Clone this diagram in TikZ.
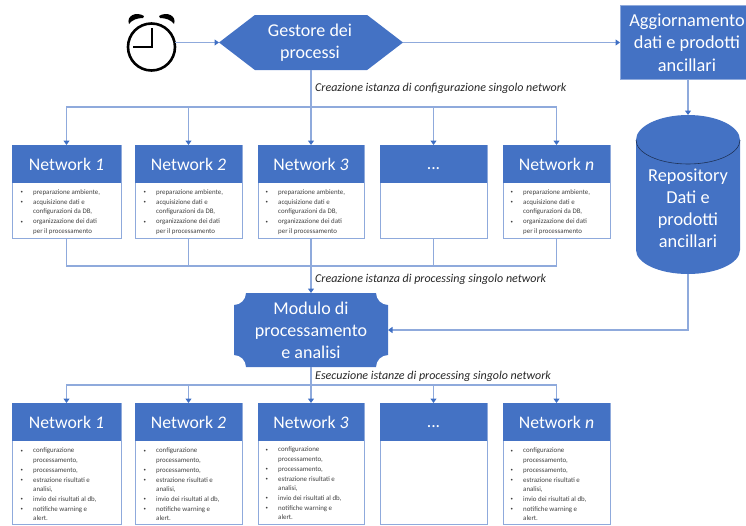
\documentclass[tikz,border=0pt]{standalone}
\usepackage{fontspec}
\setmainfont{Carlito}
\usetikzlibrary{arrows.meta,shapes.symbols,calc}
\definecolor{fillblue}{HTML}{4472C4}
\definecolor{lineblue}{HTML}{8FAADC}
\definecolor{tipblue}{HTML}{3F6FC4}
\newcommand{\bl}[1]{\makebox[13pt][l]{\hspace{0.5pt}\raisebox{0.5pt}{\scalebox{0.7}{\textbullet}}}#1\\}
\newcommand{\cn}[1]{\hspace*{13pt}#1\\}
\newcommand{\prep}{\bl{preparazione ambiente,}\bl{acquisizione dati e}\cn{configurazioni da DB,}\bl{organizzazione dei dati}\cn{per il processamento}}
\newcommand{\proc}{\bl{configurazione}\cn{processamento,}\bl{processamento,}\bl{estrazione risultati e}\cn{analisi,}\bl{invio dei risultati al db,}\bl{notifiche warning e}\cn{alert.}}
\newcommand{\tridots}{\vphantom{N}...}
\tikzset{
  x=1pt,y=-1pt,
  conn/.style={draw=lineblue,line width=1.4pt},
  arr/.style={conn,-{Triangle[length=4.5pt,width=6pt,color=tipblue]}},
  boxbody/.style={draw=lineblue,line width=1pt,fill=white,inner sep=0pt,outer sep=0pt,minimum width=#1},
  head/.style={fill=fillblue,text=white,inner sep=0pt,outer sep=0pt,font=\fontsize{17.7}{20}\selectfont,minimum width=#1,minimum height=38pt},
  bigtext/.style={text=white,align=center,font=\fontsize{18}{22}\selectfont,inner sep=0pt},
  note/.style={font=\fontsize{12}{14}\selectfont\itshape,text=black!85,inner sep=0pt,anchor=west},
  small/.style={font=\fontsize{6.9}{9.7}\selectfont,text=black!75,align=left,anchor=north west,inner sep=0pt},
}
\begin{document}
\begin{tikzpicture}
\useasboundingbox (0,0) rectangle (746,525);
% clock
\node[circle,draw=black,line width=2.6pt,minimum size=47pt,inner sep=0pt,outer sep=0pt] (clock) at (151.5,47) {};
\draw[line width=2pt,line join=miter] (152,28) -- (152,46.5) -- (133,46.5);
\fill (129,24) .. controls (126,16) and (136,11) .. (144,16) -- (143,18) .. controls (137,18) and (132,20) .. cycle;
\fill (174,24) .. controls (177,16) and (167,11) .. (159,16) -- (160,18) .. controls (166,18) and (171,20) .. cycle;
% top shapes
\node[signal,signal to=west and east,signal pointer angle=75,fill=fillblue,inner sep=0pt,outer sep=0pt,minimum width=184pt,minimum height=55pt] (gestore) at (311,42.5) {};
\node[bigtext] (gestoretxt) at (310,43) {Gestore dei\\processi};
\node[fill=fillblue,draw=lineblue,line width=0.6pt,minimum width=126pt,minimum height=74pt,outer sep=0pt,inner sep=0pt] (agg) at (683,42) {};
\node[text=white,align=center,font=\fontsize{18.3}{22.5}\selectfont,inner sep=0pt] (aggtxt) at (687,42.5) {Aggiornamento\\dati e prodotti\\ancillari};
% cylinder
\node[inner sep=0pt,outer sep=0pt,minimum width=104pt,minimum height=159pt] (rep) at (688,194.5) {};
\fill[fillblue] (636,140) arc[x radius=52,y radius=25,start angle=180,end angle=360] -- (740,250) arc[x radius=52,y radius=24,start angle=0,end angle=180] -- cycle;
\draw[black!55!fillblue,line width=0.6pt] (636,140) arc[x radius=52,y radius=24,start angle=180,end angle=0];
\node[text=white,align=center,font=\fontsize{18.3}{22}\selectfont,inner sep=0pt] (reptxt) at (688,208) {Repository\\Dati e\\prodotti\\ancillari};
% module
\node[inner sep=0pt,outer sep=0pt,minimum width=154pt,minimum height=74pt] (module) at (311,330) {};
\fill[fillblue] (246,293) -- (376,293) arc[radius=12,start angle=180,end angle=90] -- (388,355) arc[radius=12,start angle=270,end angle=180] -- (246,367) arc[radius=12,start angle=0,end angle=-90] -- (234,305) arc[radius=12,start angle=90,end angle=0] -- cycle;
\node[bigtext] (moduletxt) at (311,330) {Modulo di\\processamento\\e analisi};
% second row
\foreach \n/\cx/\w/\t in {1/66.5/109/Network \textit{1},2/188.5/107/Network \textit{2},3/311/106/Network \textit{3},4/433.5/107/\tridots,5/556.5/107/Network \textit{n}}{
  \node[boxbody=\w pt,minimum height=93pt] (a\n) at (\cx,191.5) {};
  \node[head=\w pt,anchor=north] (ah\n) at (a\n.north) {\t};
}
\foreach \n/\lx in {1/33,2/156,3/278,5/523}{
  \node[small] (at\n) at (\lx-13,189.5) {\prep};
}
% third row
\foreach \n/\cx/\w/\t in {1/66.5/109/Network \textit{1},2/188.5/107/Network \textit{2},3/311/106/Network \textit{3},4/433.5/107/\tridots,5/556.5/107/Network \textit{n}}{
  \node[boxbody=\w pt,minimum height=121pt] (b\n) at (\cx,463.5) {};
  \node[head=\w pt,anchor=north] (bh\n) at (b\n.north) {\t};
}
\foreach \n/\lx/\ly in {1/33/448,2/156/448,3/278/447,5/523/448}{
  \node[small] (bt\n) at (\lx-13,\ly) {\proc};
}
% connectors
\coordinate (busa) at (311,107);
\coordinate (busb) at (311,266);
\coordinate (busc) at (311,385);
\draw[arr] (clock.east|-gestore.west) -- (gestore.west);
\draw[arr] (gestore.east) -- (agg.west|-gestore.east);
\draw[arr] (rep|-agg.south) -- (rep.north);
\draw[arr] (rep.south) |- (module.east);
\draw[conn] (gestore.south) -- (busa);
\foreach \n in {1,2,3,4,5}{
  \draw[arr] (busa) -| (a\n.north);
  \draw[conn] (a\n.south) |- (busb);
  \draw[arr] (busc) -| (b\n.north);
}
\draw[arr] (busb) -- (module.north);
\draw[conn] (module.south) -- (busc);
\node[note] (la) at (315,88) {Creazione istanza di configurazione singolo network};
\node[note] (lb) at (315,279) {Creazione istanza di processing singolo network};
\node[note] (lc) at (315,376) {Esecuzione istanze di processing singolo network};
\end{tikzpicture}
\end{document}
